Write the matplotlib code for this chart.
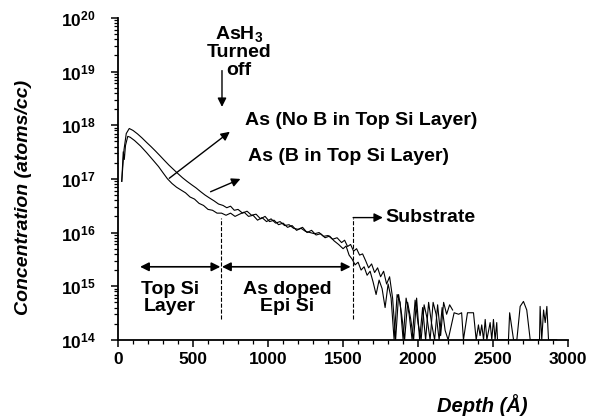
import numpy as np
import matplotlib
matplotlib.use("Agg")
import matplotlib.pyplot as plt
from matplotlib.ticker import LogLocator, MultipleLocator, FuncFormatter, NullFormatter

plt.rcParams['font.family'] = ['Liberation Sans', 'DejaVu Sans']
plt.rcParams['font.weight'] = 'bold'
plt.rcParams['mathtext.fontset'] = 'custom'
plt.rcParams['mathtext.rm'] = 'Liberation Sans:bold'
plt.rcParams['mathtext.bf'] = 'Liberation Sans:bold'

# As profile, no B in the top Si layer (depth in A, atoms/cc)
depth_nob = [25, 40, 55, 75, 100, 130, 160, 190, 220, 250, 280, 310, 340, 370, 400,
             430, 460, 490, 520, 550, 580, 610, 640, 670, 700, 725, 750, 775, 800, 830,
             860, 890, 920, 950, 980, 1010, 1040, 1070, 1100, 1130, 1160, 1190, 1220,
             1250, 1280, 1310, 1340, 1370, 1400, 1430, 1460, 1490, 1510, 1530, 1550,
             1570, 1590, 1610, 1630, 1650, 1670, 1690, 1710, 1730, 1750, 1770, 1790,
             1810, 1830, 1850, 1870, 1890, 1910, 1930, 1950, 1970, 1990, 2010, 2030,
             2050, 2070, 2090, 2110, 2130, 2150, 2170, 2190, 2210, 2230]
conc_nob = [9e16, 3.5e17, 7.0e17, 8.7e17, 8.0e17, 6.9e17, 5.8e17, 4.8e17, 4.0e17, 3.3e17,
            2.7e17, 2.2e17, 1.8e17, 1.5e17, 1.25e17, 1.05e17, 9.0e16, 7.8e16, 6.8e16,
            5.8e16, 5.0e16, 4.4e16, 3.9e16, 3.4e16, 3.2e16, 2.9e16, 3.1e16, 2.6e16,
            2.7e16, 2.3e16, 2.5e16, 2.1e16, 2.2e16, 1.8e16, 2.0e16, 1.6e16, 1.7e16,
            1.4e16, 1.5e16, 1.25e16, 1.35e16, 1.1e16, 1.2e16, 1.05e16, 1.0e16, 9.5e15,
            1.0e16, 8.5e15, 8.8e15, 7.5e15, 8.0e15, 6.5e15, 7.2e15, 5.5e15, 6.0e15,
            4.5e15, 5.0e15, 3.8e15, 4.0e15, 3.0e15, 2.2e15, 2.6e15, 1.8e15, 2.2e15,
            1.5e15, 1.9e15, 1.1e15, 1.5e15, 6e14, 1e14, 7e14, 3e14, 1e14, 5e14, 2.5e14,
            1e14, 6e14, 1e14, 4e14, 1e14, 5e14, 2e14, 1e14, 4.5e14, 1.2e14, 5e14, 3e14,
            4.5e14, 3.6e14]

# As profile, B in the top Si layer
depth_b = [25, 35, 42, 50, 65, 80, 110, 150, 190, 230, 270, 300, 330, 360, 390, 420,
           450, 480, 510, 540, 570, 600, 630, 660, 690, 720, 750, 780, 810, 840, 870,
           900, 930, 960, 990, 1020, 1050, 1080, 1110, 1140, 1170, 1200, 1230, 1260,
           1290, 1320, 1350, 1380, 1410, 1440, 1470, 1500, 1520, 1540, 1560, 1580,
           1600, 1620, 1640, 1660, 1680, 1700, 1720, 1740, 1760, 1780, 1800, 1820,
           1840, 1860, 1880, 1900, 1920, 1940, 1960, 1980, 2000, 2020, 2040, 2060,
           2080, 2100, 2120, 2140, 2160, 2180, 2200, 2240, 2270, 2290, 2302, 2329,
           2369, 2387, 2402, 2413, 2424, 2436, 2447, 2458, 2480, 2491, 2502, 2513,
           2524, 2529, 2602, 2610, 2636, 2658, 2680, 2702, 2724, 2747, 2809, 2813,
           2824, 2836, 2847, 2858, 2869, 2924]
conc_b = [9e16, 3.2e17, 2.3e17, 4.2e17, 6.2e17, 6.0e17, 5.2e17, 4.1e17, 3.1e17, 2.3e17,
          1.7e17, 1.3e17, 1.0e17, 8.2e16, 7.0e16, 6.2e16, 5.5e16, 4.6e16, 4.2e16, 3.5e16,
          3.2e16, 2.7e16, 2.6e16, 2.3e16, 2.3e16, 2.1e16, 2.3e16, 2.0e16, 2.2e16, 2.4e16,
          2.0e16, 2.1e16, 1.7e16, 1.9e16, 1.6e16, 1.8e16, 1.5e16, 1.6e16, 1.35e16,
          1.4e16, 1.2e16, 1.15e16, 1.25e16, 1.0e16, 1.1e16, 9.0e15, 9.5e15, 8.0e15,
          8.6e15, 7.0e15, 6.0e15, 5.0e15, 5.6e15, 3.8e15, 3.2e15, 2.5e15, 2.8e15,
          2.0e15, 2.3e15, 1.6e15, 1.9e15, 1.2e15, 7e14, 1.3e15, 9e14, 4e14, 1.1e15,
          6e14, 1e14, 7e14, 5e14, 1e14, 6e14, 3e14, 1e14, 5.5e14, 2e14, 1e14, 4.5e14,
          2.5e14, 1e14, 5e14, 3e14, 1e14, 4e14, 1.5e14, 1e14, 3.2e14, 3.0e14, 3.2e14,
          1e14, 3.2e14, 3.2e14, 1e14, 1.9e14, 1.2e14, 1.9e14, 1e14, 2.4e14, 1e14, 2.1e14,
          1e14, 2.4e14, 1e14, 2.1e14, 1e14, 1e14, 3.2e14, 1e14, 1e14, 4.2e14, 5.2e14,
          3.6e14, 1e14, 1e14, 4.2e14, 1e14, 3.6e14, 2.1e14, 4.2e14, 1e14, 1e14]

fig = plt.figure(figsize=(5.9, 4.17), dpi=100)
ax = fig.add_axes([0.2, 0.185, 0.763, 0.772])

ax.plot(depth_nob, conc_nob, color='k', lw=0.8)
ax.plot(depth_b, conc_b, color='k', lw=0.8)

ax.set_yscale('log')
ax.set_ylim(1e14, 1e20)
ax.set_xlim(0, 3000)

ax.spines['top'].set_visible(False)
ax.spines['right'].set_visible(False)
ax.spines['left'].set_linewidth(1.3)
ax.spines['bottom'].set_linewidth(1.3)

ax.yaxis.set_major_locator(LogLocator(base=10, numticks=10))
ax.yaxis.set_minor_locator(LogLocator(base=10, subs=np.arange(2, 10), numticks=20))
ax.yaxis.set_minor_formatter(NullFormatter())
ax.yaxis.set_major_formatter(FuncFormatter(lambda v, p: r'$\mathbf{10^{%d}}$' % round(np.log10(v))))
ax.xaxis.set_major_locator(MultipleLocator(500))
ax.xaxis.set_minor_locator(MultipleLocator(100))

ax.tick_params(which='major', length=5, width=1.1, labelsize=12.5)
ax.tick_params(which='minor', length=3, width=0.9)
ax.tick_params(axis='y', which='major', pad=11)
ax.tick_params(axis='x', which='major', pad=4)
for lab in ax.get_xticklabels():
    lab.set_fontweight('bold')

fs = 14
# AsH3 turned off
ax.text(807, 10**19.38, r'As$\mathregular{H_3}$' + '\nTurned\noff', ha='center', va='center',
        fontsize=fs, fontweight='bold', linespacing=1.05)
ax.annotate('', xy=(693, 10**18.29), xytext=(693, 10**19.07),
            arrowprops=dict(arrowstyle='-|>', color='k', lw=1, mutation_scale=13))

# curve labels
ax.text(847, 10**18.08, 'As (No B in Top Si Layer)', ha='left', va='center',
        fontsize=fs, fontweight='bold')
ax.text(867, 10**17.41, 'As (B in Top Si Layer)', ha='left', va='center',
        fontsize=fs, fontweight='bold')
ax.annotate('', xy=(760, 10**17.91), xytext=(327, 10**16.98),
            arrowprops=dict(arrowstyle='-|>', color='k', lw=1, mutation_scale=13))
ax.annotate('', xy=(833, 10**17.02), xytext=(600, 10**16.74),
            arrowprops=dict(arrowstyle='-|>', color='k', lw=1, mutation_scale=13))

# layer boundaries
ax.plot([687, 687], [2.4e14, 1.9e16], color='k', ls='--', lw=0.8)
ax.plot([1567, 1567], [2.4e14, 1.9e16], color='k', ls='--', lw=0.8)
ax.annotate('', xy=(1765, 1.9e16), xytext=(1567, 1.9e16),
            arrowprops=dict(arrowstyle='-|>', color='k', lw=1, mutation_scale=13,
                            shrinkA=0, shrinkB=0))
ax.text(1785, 1.9e16, 'Substrate', ha='left', va='center', fontsize=fs, fontweight='bold')

ax.annotate('', xy=(147, 2.3e15), xytext=(682, 2.3e15),
            arrowprops=dict(arrowstyle='<|-|>', color='k', lw=1.2, mutation_scale=13,
                            shrinkA=0, shrinkB=0))
ax.annotate('', xy=(693, 2.3e15), xytext=(1550, 2.3e15),
            arrowprops=dict(arrowstyle='<|-|>', color='k', lw=1.2, mutation_scale=13,
                            shrinkA=0, shrinkB=0))
ax.text(347, 10**14.78, 'Top Si\nLayer', ha='center', va='center', fontsize=fs,
        fontweight='bold', linespacing=1.05)
ax.text(1127, 10**14.78, 'As doped\nEpi Si', ha='center', va='center', fontsize=fs,
        fontweight='bold', linespacing=1.05)

fig.text(0.039, 0.527, 'Concentration (atoms/cc)', rotation=90, ha='center', va='center',
         fontsize=14, fontweight='bold', style='italic')
fig.text(0.817, 0.029, 'Depth (\u00c5)', ha='center', va='center', fontsize=14.5,
         fontweight='bold', style='italic')

fig.savefig('out.png', dpi=100)
